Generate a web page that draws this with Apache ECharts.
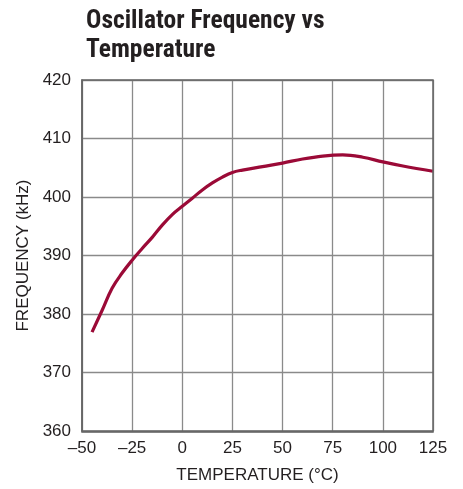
<!DOCTYPE html>
<html><head><meta charset="utf-8">
<script src="https://cdn.jsdelivr.net/npm/echarts@6/dist/echarts.min.js"></script>
<style>html,body{margin:0;padding:0;background:#fff}#c{width:463px;height:489px}</style>
</head><body><div id="c"></div>
<script>
const temps = [-45,-40,-35,-30,-25,-20,-15,-10,-5,0,5,10,15,20,25,30,40,50,60,70,80,90,100,110,125];
const freq  = [376.9,380.6,384.4,387.0,389.2,391.2,393.1,395.2,397.0,398.4,399.8,401.2,402.4,403.4,404.2,404.6,405.2,405.8,406.5,407.0,407.2,406.8,406.0,405.3,404.4];
const titleText = 'Oscillator Frequency vs\nTemperature';
const xName = 'TEMPERATURE (°C)';
const yName = 'FREQUENCY (kHz)';
const TFONT = '"Liberation Sans Narrow", "Roboto Condensed", Arial, sans-serif';
const FONT = '"Liberation Sans", Arial, sans-serif';
const chart = echarts.init(document.getElementById('c'));
chart.setOption({
  animation:false,
  title:{text:titleText,left:81,top:2,textStyle:{fontFamily:TFONT,fontWeight:'bold',fontSize:25.5,lineHeight:29,color:'#231f20'}},
  grid:{left:82,right:30,top:80,bottom:57},
  xAxis:{type:'value',min:-50,max:125,interval:25,name:xName,nameLocation:'middle',nameGap:36,
    nameTextStyle:{fontFamily:FONT,fontSize:17,color:'#231f20'},
    axisLine:{show:true,onZero:false,lineStyle:{color:'#666',width:1.5}},axisTick:{show:false},
    axisLabel:{fontFamily:FONT,fontSize:17,color:'#231f20',margin:9,formatter:v=>String(v).replace('-','\u2013')},
    splitLine:{show:true,lineStyle:{color:'#8a8a8a',width:1.3}}},
  yAxis:{type:'value',min:360,max:420,interval:10,name:yName,nameLocation:'middle',nameGap:49,
    nameTextStyle:{fontFamily:FONT,fontSize:17,color:'#231f20'},
    axisLine:{show:true,onZero:false,lineStyle:{color:'#666',width:1.5}},axisTick:{show:false},
    axisLabel:{fontFamily:FONT,fontSize:17,color:'#231f20',margin:11},
    splitLine:{show:true,lineStyle:{color:'#8a8a8a',width:1.3}}},
  series:[{type:'line',data:temps.map((t,i)=>[t,freq[i]]),smooth:0.4,symbol:'none',
    lineStyle:{color:'#9b0a37',width:3.2}}],
  graphic:[{type:'rect',shape:{x:82,y:80,width:351,height:352},style:{fill:'none',stroke:'#666',lineWidth:1.5},silent:true,z:10}]
});
</script></body></html>
